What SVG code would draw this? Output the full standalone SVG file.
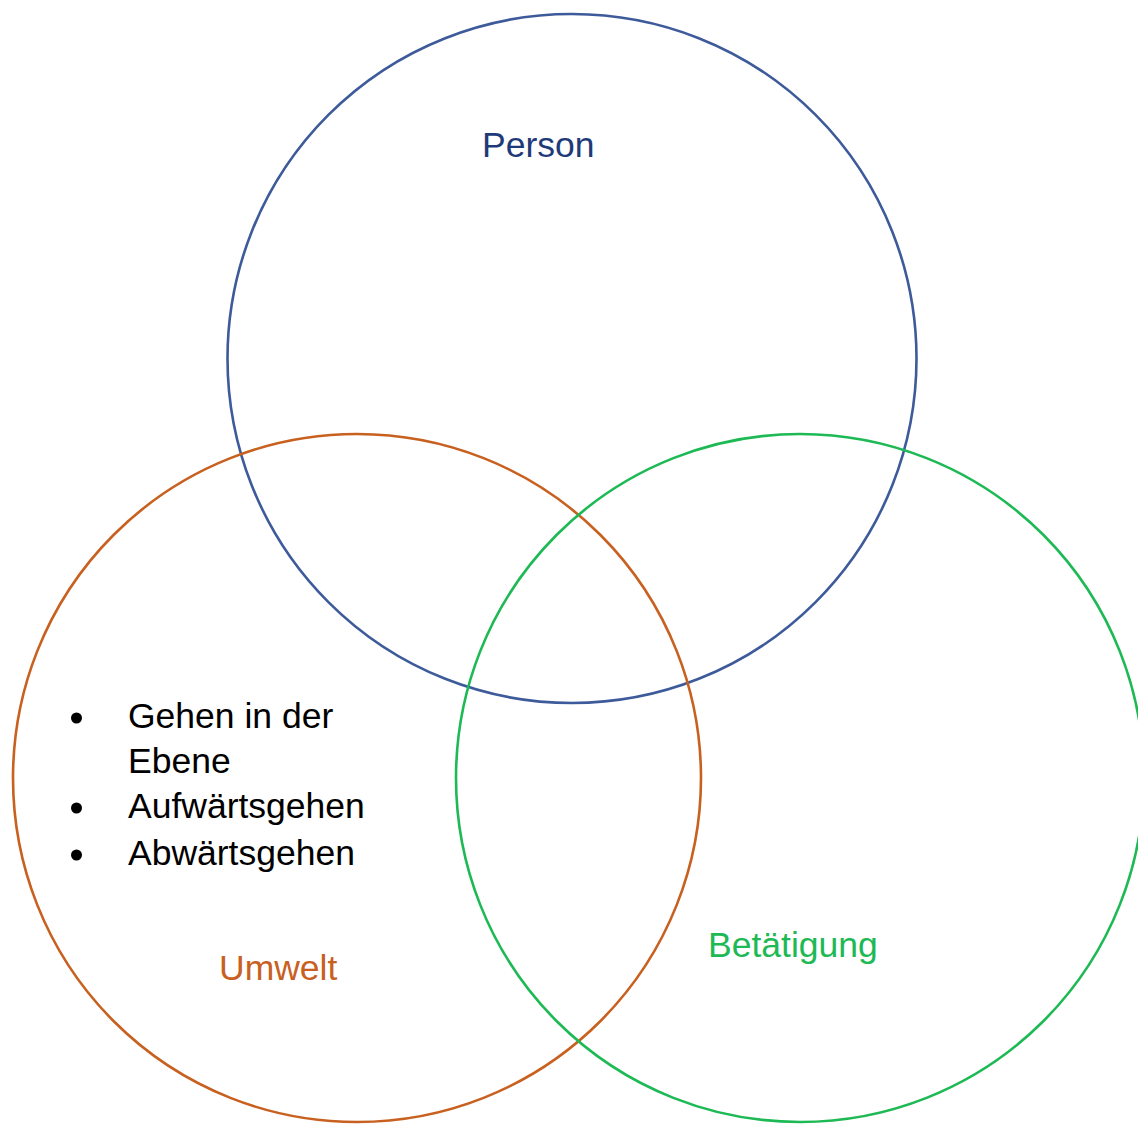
<svg xmlns="http://www.w3.org/2000/svg" width="1138" height="1124" viewBox="0 0 1138 1124">
<style>
.c{fill:none;stroke-width:2.6}
.t{font-family:"Liberation Sans",Arial,sans-serif;font-size:35.5px}
</style>
<rect width="1138" height="1124" fill="#fff"/>
<g id="person"><circle class="c" cx="572" cy="358.5" r="344.5" stroke="#3d5a9a"/><text class="t" x="482" y="157" fill="#1f3a78">Person</text></g>
<g id="umwelt"><circle class="c" cx="357" cy="778" r="344" stroke="#c8601f"/><text class="t" x="219" y="980" fill="#c8601f">Umwelt</text>
<g fill="#000"><circle cx="76.5" cy="718" r="5.5"/><circle cx="76.5" cy="808" r="5.5"/><circle cx="76.5" cy="855" r="5.5"/></g>
<text class="t" fill="#000"><tspan x="128" y="728">Gehen in der</tspan><tspan x="128" y="773">Ebene</tspan><tspan x="128" y="818">Aufwärtsgehen</tspan><tspan x="128" y="865">Abwärtsgehen</tspan></text></g>
<g id="betaetigung"><circle class="c" cx="800" cy="778" r="344" stroke="#1db954"/><text class="t" x="708" y="957" fill="#1db954">Betätigung</text></g>
<g id="connectors"/>
</svg>
